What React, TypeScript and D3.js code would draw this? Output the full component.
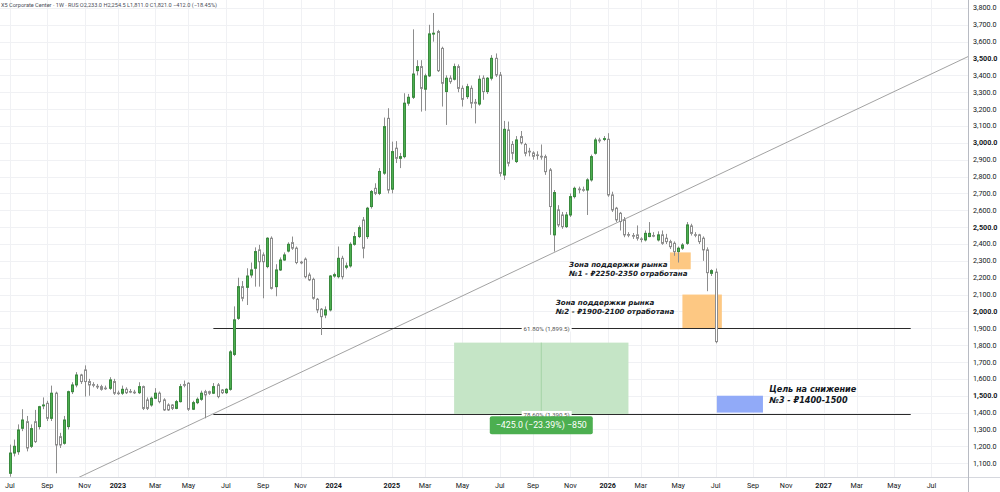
import { format, scaleLinear, ScaleLinear } from "d3";

// weekly candles, [open, high, low, close]
const segmentStarts = ["2022-07-04", "2025-01-06"];

const candles2022: number[][] = [
    [1040, 1210, 1020, 1160], [1160, 1240, 1140, 1200], [1168, 1330, 1150, 1297], [1307, 1420, 1290, 1356],
    [1346, 1380, 1170, 1190], [1200, 1330, 1190, 1305], [1346, 1416, 1220, 1228], [1317, 1440, 1300, 1435],
    [1440, 1490, 1420, 1445], [1455, 1470, 1350, 1366], [1366, 1560, 1350, 1515], [1515, 1524, 1040, 1208],
    [1257, 1280, 1190, 1208], [1218, 1380, 1210, 1356], [1317, 1530, 1300, 1524], [1524, 1580, 1510, 1564],
    [1564, 1640, 1550, 1623], [1623, 1630, 1570, 1584], [1653, 1680, 1495, 1584], [1584, 1600, 1500, 1564],
    [1566, 1580, 1550, 1562], [1556, 1570, 1540, 1552], [1554, 1565, 1530, 1538], [1545, 1560, 1535, 1543],
    [1544, 1610, 1535, 1594], [1584, 1600, 1505, 1515], [1516, 1530, 1505, 1514], [1515, 1560, 1505, 1538],
    [1538, 1550, 1510, 1518], [1525, 1540, 1515, 1523], [1521, 1535, 1510, 1519], [1518, 1580, 1510, 1554],
    [1554, 1560, 1415, 1425], [1475, 1490, 1415, 1425], [1445, 1495, 1435, 1485], [1485, 1545, 1480, 1515],
    [1515, 1525, 1455, 1465], [1475, 1485, 1410, 1416], [1445, 1455, 1410, 1416], [1445, 1450, 1415, 1425],
    [1425, 1475, 1420, 1465], [1465, 1570, 1460, 1554], [1566, 1590, 1550, 1562], [1574, 1580, 1410, 1420],
    [1420, 1470, 1415, 1459], [1459, 1490, 1450, 1479], [1479, 1530, 1470, 1515], [1524, 1535, 1366, 1505],
    [1524, 1530, 1505, 1515], [1515, 1575, 1510, 1554], [1564, 1575, 1485, 1495], [1534, 1540, 1510, 1518],
    [1518, 1545, 1510, 1538], [1538, 1770, 1530, 1760], [1745, 2030, 1735, 1950], [1959, 2200, 1950, 2147],
    [2147, 2180, 2060, 2078], [2143, 2256, 2038, 2210], [2216, 2290, 2200, 2246], [2256, 2380, 2147, 2355],
    [2365, 2395, 2147, 2295], [2335, 2350, 2078, 2295], [2266, 2440, 2256, 2434], [2434, 2445, 2130, 2137],
    [2147, 2280, 2090, 2246], [2246, 2320, 2240, 2305], [2305, 2350, 2300, 2335], [2358, 2410, 2350, 2398],
    [2408, 2444, 2365, 2375], [2375, 2385, 2280, 2290], [2292, 2300, 2280, 2288], [2310, 2320, 2196, 2206],
    [2216, 2230, 2180, 2187], [2190, 2200, 2070, 2078], [2072, 2080, 1990, 2009], [2013, 2020, 1860, 1969],
    [1979, 2030, 1960, 2009], [2009, 2216, 2000, 2210], [2210, 2230, 2200, 2218], [2206, 2385, 2196, 2315],
    [2315, 2330, 2190, 2206], [2262, 2290, 2250, 2270], [2270, 2410, 2260, 2398], [2398, 2470, 2390, 2444],
    [2444, 2510, 2435, 2497], [2542, 2560, 2315, 2375], [2444, 2620, 2430, 2612], [2622, 2720, 2610, 2711],
    [2730, 2760, 2690, 2700], [2700, 2850, 2690, 2830], [2820, 3150, 2810, 3096], [3145, 3205, 2700, 2720],
];

const candles2025: number[][] = [
    [2725, 3007, 2700, 2948], [2968, 3010, 2880, 2908], [2908, 2940, 2850, 2918], [2918, 3294, 2908, 3235],
    [3235, 3290, 3220, 3270], [3270, 3673, 3260, 3408], [3428, 3490, 3400, 3452], [3452, 3490, 3185, 3323],
    [3318, 3410, 3190, 3397], [3397, 3700, 3390, 3646], [3645, 3770, 3600, 3650], [3660, 3670, 3420, 3428],
    [3560, 3570, 3215, 3353], [3304, 3400, 3106, 3383], [3383, 3400, 3350, 3363], [3377, 3470, 3370, 3452],
    [3452, 3465, 3300, 3323], [3323, 3340, 3215, 3258], [3274, 3350, 3260, 3333], [3323, 3340, 3205, 3235],
    [3240, 3260, 3115, 3235], [3230, 3400, 3220, 3377], [3383, 3400, 3255, 3304], [3304, 3390, 3290, 3383],
    [3383, 3520, 3370, 3501], [3501, 3530, 3390, 3402], [3402, 3420, 2800, 2819], [2809, 3130, 2780, 3080],
    [3076, 3126, 2860, 2879], [2990, 3010, 2900, 2938], [2889, 3040, 2880, 3017], [3037, 3070, 2990, 3000],
    [2990, 3000, 2920, 2938], [2950, 2970, 2920, 2946], [2940, 2950, 2900, 2920], [2928, 2950, 2900, 2925],
    [2920, 2990, 2900, 2916], [2918, 2930, 2810, 2829], [2839, 2850, 2454, 2622], [2454, 2720, 2355, 2705],
    [2602, 2630, 2500, 2513], [2572, 2590, 2490, 2503], [2503, 2590, 2495, 2572], [2572, 2700, 2560, 2681],
    [2681, 2740, 2670, 2730], [2726, 2740, 2700, 2722], [2722, 2740, 2710, 2720], [2720, 2790, 2572, 2780],
    [2780, 2930, 2770, 2918], [2938, 3030, 2930, 3017], [3017, 3030, 3000, 3012], [3020, 3040, 3010, 3025],
    [3021, 3057, 2680, 2691], [2691, 2710, 2590, 2602], [2612, 2620, 2530, 2543], [2582, 2590, 2480, 2533],
    [2543, 2560, 2440, 2454], [2456, 2470, 2440, 2452], [2450, 2465, 2430, 2446], [2454, 2510, 2420, 2434],
    [2430, 2440, 2410, 2428], [2424, 2480, 2415, 2463], [2444, 2530, 2440, 2463], [2450, 2470, 2440, 2448],
    [2424, 2475, 2415, 2454], [2454, 2480, 2395, 2404], [2434, 2460, 2400, 2414], [2414, 2425, 2370, 2384],
    [2404, 2415, 2330, 2355], [2355, 2385, 2290, 2375], [2375, 2405, 2365, 2394], [2404, 2530, 2395, 2513],
    [2507, 2520, 2450, 2463], [2455, 2470, 2440, 2452], [2454, 2460, 2400, 2414], [2434, 2445, 2300, 2365],
    [2365, 2380, 2120, 2230], [2226, 2250, 2210, 2242], [2233, 2254.5, 1811, 1821],
];

const futureWeeks = 62;

const priceTicks = [
    1100, 1200, 1300, 1400, 1500, 1600, 1700, 1800, 1900, 2000, 2100, 2200, 2300, 2400,
    2500, 2600, 2700, 2800, 2900, 3000, 3100, 3200, 3300, 3400, 3500, 3600, 3700, 3800,
];
const monthLabels = ["", "", "Mar", "", "May", "", "Jul", "", "Sep", "", "Nov", ""];

const fibLevels = [
    { label: "61.80% (1,899.5)", price: 1899.5 },
    { label: "78.60% (1,390.5)", price: 1390.5 },
];
const fibSpan = [49, 217];
const trendAnchors = [[47, 1370], [147, 2535]];
const measure = { from: 107, to: 149, startPrice: 1815, endPrice: 1390, text: "−425.0 (−23.39%) −850" };
const supportZones = [
    { from: 159, to: 164, low: 2250, high: 2350 },
    { from: 162, to: 171.5, low: 1900, high: 2100 },
];
const targetZone = { from: 170.3, to: 181.4, low: 1400, high: 1500 };
const notes = [
    { at: 134.7, price: 2264, lines: ["Зона поддержки рынка", "№1 - ₽2250-2350 отработана"], size: 7.1, lead: 9.2 },
    { at: 131.5, price: 2040, lines: ["Зона поддержки рынка", "№2 - ₽1900-2100 отработана"], size: 7.1, lead: 9.2 },
    { at: 182.9, price: 1524, lines: ["Цель на снижение", "№3 - ₽1400-1500"], size: 8.1, lead: 11 },
];

const W = 1000;
const H = 492;
const plotRight = 968;
const plotBottom = 477;
const font = "Roboto, 'Liberation Sans', sans-serif";
const noteFont = "'DejaVu Sans', Verdana, sans-serif";

interface Bar {
    date: Date;
    candle?: number[];
}

const parseDay = (s: string) => {
    const [y, m, d] = s.split("-").map(Number);
    return new Date(y, m - 1, d);
};
const addWeeks = (d: Date, n: number) => new Date(d.getFullYear(), d.getMonth(), d.getDate() + 7 * n);

function buildBars(): Bar[] {
    const bars: Bar[] = [];
    [candles2022, candles2025].forEach((seg, s) => {
        const start = parseDay(segmentStarts[s]);
        seg.forEach((c, i) => bars.push({ date: addWeeks(start, i), candle: c }));
    });
    const last = bars[bars.length - 1].date;
    for (let i = 1; i <= futureWeeks; i++) bars.push({ date: addWeeks(last, i) });
    return bars;
}

interface AxisProps {
    x: ScaleLinear<number, number>;
    y: ScaleLinear<number, number>;
}

const Candles = ({ bars, x, y }: AxisProps & { bars: Bar[] }) => (
    <g>
        {bars.map((b, i) => {
            if (!b.candle) return null;
            const [o, h, l, c] = b.candle;
            const up = c > o;
            const cx = Math.round(x(i)) + 0.5;
            const top = y(Math.max(o, c));
            const bot = y(Math.min(o, c));
            return (
                <g key={`c-${i}`}>
                    <line x1={cx} x2={cx} y1={y(h)} y2={y(l)} stroke="#8d8d8d" strokeWidth={1} />
                    <rect
                        x={cx - 1}
                        y={top}
                        width={2}
                        height={Math.max(bot - top, 0.6)}
                        fill={up ? "#4caf50" : "#ffffff"}
                        stroke={up ? "#3a8a3e" : "#8d8d8d"}
                        strokeWidth={1}
                    />
                </g>
            );
        })}
    </g>
);

export default function App() {
    const bars = buildBars();
    const x = scaleLinear().domain([-2.4, 230.8]).range([0, plotRight]);
    const y = scaleLinear().domain([1018, 3847]).range([plotBottom, 0]);
    const fmt = format(",.1f");

    // time ticks: first bar of Jan/Mar/May/Jul/Sep/Nov
    const raw: { i: number; label: string; year: boolean }[] = [];
    bars.forEach((b, i) => {
        const m = b.date.getMonth();
        const prev = i > 0 ? bars[i - 1].date : null;
        const first = prev ? prev.getMonth() !== m || prev.getFullYear() !== b.date.getFullYear() : b.date.getDate() <= 7;
        if (!first || m % 2 !== 0) return;
        if (m === 0) raw.push({ i, label: String(b.date.getFullYear()), year: true });
        else raw.push({ i, label: monthLabels[m], year: false });
    });
    const timeTicks = raw.filter(
        (t) =>
            x(t.i) < plotRight - 15 &&
            (t.year || !raw.some((o) => o.year && Math.abs(x(o.i) - x(t.i)) < 30))
    );

    const trendSlope = (trendAnchors[1][1] - trendAnchors[0][1]) / (trendAnchors[1][0] - trendAnchors[0][0]);
    const trendAt = (i: number) => trendAnchors[0][1] + trendSlope * (i - trendAnchors[0][0]);

    const midMeasure = (measure.from + measure.to) / 2;

    return (
        <svg width={W} height={H} style={{ position: "absolute", left: 0, top: 0, background: "#fff" }}>
            <defs>
                <clipPath id="plot">
                    <rect x={0} y={0} width={plotRight} height={plotBottom} />
                </clipPath>
            </defs>
            <rect x={0} y={0} width={W} height={H} fill="#fff" />

            {/* grid */}
            <g stroke="#f0f1f4" strokeWidth={1}>
                {priceTicks.map((p) => (
                    <line key={`h-${p}`} x1={0} x2={plotRight} y1={Math.round(y(p)) + 0.5} y2={Math.round(y(p)) + 0.5} />
                ))}
                {timeTicks.map((t) => (
                    <line key={`v-${t.i}`} x1={Math.round(x(t.i)) + 0.5} x2={Math.round(x(t.i)) + 0.5} y1={0} y2={plotBottom} />
                ))}
            </g>

            <g clipPath="url(#plot)">
                {/* measure */}
                <rect
                    x={x(measure.from)}
                    y={y(measure.startPrice)}
                    width={x(measure.to) - x(measure.from)}
                    height={y(measure.endPrice) - y(measure.startPrice)}
                    fill="#c5e5c6"
                />
                <line
                    x1={x(midMeasure)}
                    x2={x(midMeasure)}
                    y1={y(measure.startPrice)}
                    y2={y(measure.endPrice)}
                    stroke="#9ccf9e"
                    strokeWidth={0.8}
                />

                {/* zones */}
                {supportZones.map((z, k) => (
                    <rect
                        key={`z-${k}`}
                        x={x(z.from)}
                        y={y(z.high)}
                        width={x(z.to) - x(z.from)}
                        height={y(z.low) - y(z.high)}
                        fill="#fdc883"
                    />
                ))}
                <rect
                    x={x(targetZone.from)}
                    y={y(targetZone.high)}
                    width={x(targetZone.to) - x(targetZone.from)}
                    height={y(targetZone.low) - y(targetZone.high)}
                    fill="#91aaf8"
                />

                {/* trend line */}
                <line x1={x(0)} y1={y(trendAt(0))} x2={x(240)} y2={y(trendAt(240))} stroke="#8a8a8a" strokeWidth={0.8} />

                {/* fib levels */}
                {fibLevels.map((f) => {
                    const yy = Math.round(y(f.price)) + 0.5;
                    const cx = x(129.3);
                    return (
                        <g key={f.label}>
                            <line x1={x(fibSpan[0])} x2={x(fibSpan[1])} y1={yy} y2={yy} stroke="#2a2a2a" strokeWidth={1.1} />
                            <rect x={cx - 25} y={yy - 3.5} width={50} height={6.5} fill="#fff" />
                            <text x={cx} y={yy + 2} textAnchor="middle" fontSize={6.2} fill="#555" fontFamily={font}>
                                {f.label}
                            </text>
                        </g>
                    );
                })}

                <Candles bars={bars} x={x} y={y} />
            </g>

            {/* measure label */}
            <g>
                <rect x={x(midMeasure) - 51.5} y={y(measure.endPrice) + 2} width={103} height={18} rx={2} fill="#4caf50" />
                <text
                    x={x(midMeasure)}
                    y={y(measure.endPrice) + 14.2}
                    textAnchor="middle"
                    fontSize={8.8}
                    fill="#fff"
                    fontFamily={font}
                >
                    {measure.text}
                </text>
            </g>

            {/* notes */}
            {notes.map((n, k) => (
                <text
                    key={`n-${k}`}
                    x={x(n.at)}
                    y={y(n.price)}
                    fontSize={n.size}
                    fontWeight={700}
                    fontStyle="italic"
                    fill="#131722"
                    fontFamily={noteFont}
                >
                    {n.lines.map((l, j) => (
                        <tspan key={j} x={x(n.at)} dy={j === 0 ? 0 : n.lead}>
                            {l}
                        </tspan>
                    ))}
                </text>
            ))}

            {/* header */}
            <text x={1} y={7} fontSize={5.6} fill="#4a4d57" fontFamily={font}>
                X5 Corporate Center · 1W · RUS  O2,233.0 H2,254.5 L1,811.0 C1,821.0 −412.0 (−18.45%)
            </text>

            {/* axes */}
            <line x1={0} x2={W} y1={plotBottom + 0.5} y2={plotBottom + 0.5} stroke="#d6d8de" strokeWidth={1} />
            <line x1={plotRight + 0.5} x2={plotRight + 0.5} y1={0} y2={H} stroke="#b8bbc3" strokeWidth={1} />
            {priceTicks.map((p) => (
                <text
                    key={`pt-${p}`}
                    x={973}
                    y={y(p) + 2.5}
                    fontSize={7.2}
                    fontWeight={p % 500 === 0 ? 700 : 400}
                    fill="#131722"
                    fontFamily={font}
                >
                    {fmt(p)}
                </text>
            ))}
            {timeTicks.map((t) => (
                <text
                    key={`tt-${t.i}`}
                    x={x(t.i)}
                    y={487.5}
                    textAnchor="middle"
                    fontSize={7.2}
                    fontWeight={t.year ? 700 : 400}
                    fill="#131722"
                    fontFamily={font}
                >
                    {t.label}
                </text>
            ))}
        </svg>
    );
}
